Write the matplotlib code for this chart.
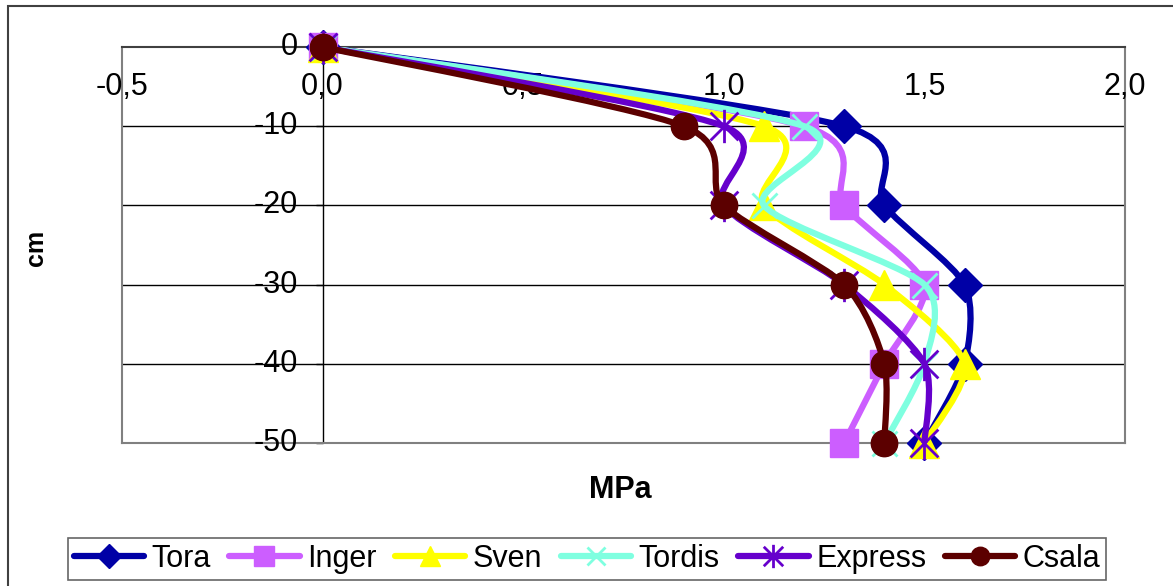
import matplotlib
matplotlib.use("Agg")
import matplotlib.pyplot as plt
from matplotlib.path import Path
from matplotlib.patches import PathPatch, Rectangle
from matplotlib.lines import Line2D

plt.rcParams['font.family'] = ['Liberation Sans', 'DejaVu Sans']

# penetration resistance (MPa) per depth (cm)
depth = [0, -10, -20, -30, -40, -50]
tora = [0.0, 1.3, 1.4, 1.6, 1.6, 1.5]
inger = [0.0, 1.2, 1.3, 1.5, 1.4, 1.3]
sven = [0.0, 1.1, 1.1, 1.4, 1.6, 1.5]
tordis = [0.0, 1.2, 1.1, 1.5, 1.5, 1.4]
express = [0.0, 1.0, 1.0, 1.3, 1.5, 1.5]
csala = [0.0, 0.9, 1.0, 1.3, 1.4, 1.4]

x_ticks = [-0.5, 0.0, 0.5, 1.0, 1.5, 2.0]
x_ticklabels = ['-0,5', '0,0', '0,5', '1,0', '1,5', '2,0']
y_ticks = [0, -10, -20, -30, -40, -50]

# asterisk: an x with a vertical stroke through it
star = Path([(-1, -1), (1, 1), (-1, 1), (1, -1), (0, -1.2), (0, 1.2)],
            [Path.MOVETO, Path.LINETO] * 3)

series = [
    ('Tora', tora, '#0000a6', dict(marker='D', ms=17)),
    ('Inger', inger, '#cc5eff', dict(marker='s', ms=20)),
    ('Sven', sven, '#ffff00', dict(marker='^', ms=21)),
    ('Tordis', tordis, '#7fffe0', dict(marker='x', ms=18, mew=2)),
    ('Express', express, '#6600cc', dict(marker=star, ms=24, mew=2)),
    ('Csala', csala, '#5c0000', dict(marker='o', ms=19)),
]


def smooth_path(xs, ys, k=0.13):
    # bezier segments through every point, like a smoothed office chart line
    pts = list(zip(xs, ys))
    n = len(pts)
    verts = [pts[0]]
    codes = [Path.MOVETO]
    for i in range(n - 1):
        p0 = pts[max(i - 1, 0)]
        p1 = pts[i]
        p2 = pts[i + 1]
        p3 = pts[min(i + 2, n - 1)]
        c1 = (p1[0] + (p2[0] - p0[0]) * k, p1[1] + (p2[1] - p0[1]) * k)
        c2 = (p2[0] - (p3[0] - p1[0]) * k, p2[1] - (p3[1] - p1[1]) * k)
        verts += [c1, c2, p2]
        codes += [Path.CURVE4] * 3
    return Path(verts, codes)


fig = plt.figure(figsize=(11.73, 5.86), dpi=100)
W, H = 1173, 586
ax = fig.add_axes([122 / W, 1 - 443 / H, 1003 / W, 396 / H])
ax.set_xlim(-0.5, 2.0)
ax.set_ylim(-50, 0)

for s in ax.spines.values():
    s.set_color('#808080')
    s.set_linewidth(1.5)
ax.spines['top'].set_color('#404040')
ax.set_xticks([])
ax.set_yticks([])

for y in y_ticks[1:-1]:
    ax.axhline(y, color='black', lw=1, zorder=1)
ax.axvline(0, color='black', lw=1, zorder=1)
ax.plot([0] * len(y_ticks), y_ticks, linestyle='none', marker=0, ms=5,
        mew=1, color='black', zorder=1, clip_on=False)

for x, lab in zip(x_ticks, x_ticklabels):
    ax.annotate(lab, xy=(x, 1), xycoords=('data', 'axes fraction'),
                xytext=(0, -40), textcoords='offset pixels',
                ha='center', va='center', fontsize=22)
for y in y_ticks:
    ax.annotate(str(y), xy=(0, y), xytext=(-25, 0), textcoords='offset pixels',
                ha='right', va='center', fontsize=22)

handles = []
for z, (name, vals, col, mk) in enumerate(series):
    patch = PathPatch(smooth_path(vals, depth), facecolor='none', edgecolor=col,
                      lw=4.5, capstyle='round', joinstyle='round', zorder=3 + z)
    ax.add_patch(patch)
    ax.plot(vals, depth, linestyle='none', color=col, mec=col, clip_on=False,
            zorder=3.5 + z, **mk)
    handles.append(Line2D([], [], color=col, lw=4.5, solid_capstyle='round',
                          mec=col, label=name, **mk))

fig.text(36 / W, 1 - 248 / H, 'cm', rotation=90, ha='center', va='center',
         fontsize=18, fontweight='bold')
fig.text(620 / W, 1 - 490 / H, 'MPa', ha='center', va='center',
         fontsize=22, fontweight='bold')

leg = fig.legend(handles=handles, loc='center', ncol=6,
                 bbox_to_anchor=(587 / W, 1 - 559 / H), fontsize=22,
                 handlelength=2.3, handletextpad=0.25, columnspacing=0.6,
                 borderpad=0.2, frameon=True, fancybox=False, markerscale=0.7)
leg.get_frame().set_edgecolor('#404040')
leg.get_frame().set_linewidth(1.2)

fig.patches.append(Rectangle((8 / W, -0.1), 1.2, 1 - 6 / H + 0.1,
                             transform=fig.transFigure, fill=False,
                             edgecolor='#404040', lw=1.5))

fig.savefig('out.png', dpi=100)
